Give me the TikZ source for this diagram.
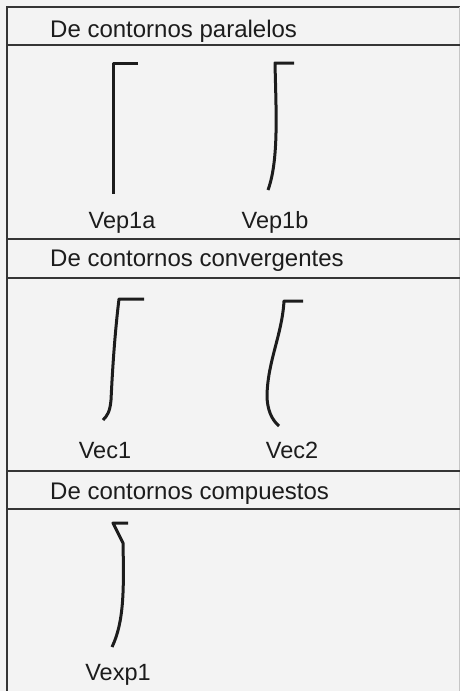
\documentclass[tikz,border=0pt]{standalone}
\usepackage{fontspec}
\setmainfont{Liberation Sans}
\usepackage{tikz}
\usetikzlibrary{positioning}
\usepackage{xcolor}
\definecolor{paper}{HTML}{F3F3F3}
\definecolor{rule}{HTML}{353535}
\definecolor{ink}{HTML}{1C1C1C}

\begin{document}
\begin{tikzpicture}[
    x=1pt, y=-1pt,
    frameLine/.style={draw=rule, line width=2pt},
    edgeStroke/.style={draw=ink, line width=3pt, line join=round},
    titleNode/.style={anchor=base west, inner sep=0pt, text=ink, font=\fontsize{24}{28}\selectfont},
    labelNode/.style={anchor=base, inner sep=0pt, text=ink, font=\fontsize{23.5}{28}\selectfont}
]
    \fill[paper] (0,0) rectangle (460,691);
    \useasboundingbox (0,0) rectangle (460,691);

    % Marco
    \draw[frameLine] (7,691) -- (7,7) -- (460,7);
    \draw[draw=gray!45, line width=1pt] (459,7) -- (459,691);
    \foreach \yy in {45,239,278,471,509}
        \draw[frameLine] (7,\yy) -- (460,\yy);

    % Panel 1
    \node[titleNode] (tit1) at (50,37) {De contornos paralelos};
    \node[labelNode] (vep1a) at (122,228) {Vep1a};
    \node[labelNode] (vep1b) at (275,228) {Vep1b};
    \draw[edgeStroke] (138,63) -- (113,63) -- (113,194);
    \draw[edgeStroke] (294,63) -- (275,63) .. controls (276,110) and (279,160) .. (268,190);

    % Panel 2
    \node[titleNode] (tit2) at (50,266) {De contornos convergentes};
    \node[labelNode] (vec1) at (105,458) {Vec1};
    \node[labelNode] (vec2) at (292,458) {Vec2};
    \draw[edgeStroke] (144,299) -- (119,299) .. controls (114,340) and (112,380) .. (111,400)
        .. controls (110,412) and (107,416) .. (103,420);
    \draw[edgeStroke] (303,301) -- (284,301) .. controls (282,335) and (268,360) .. (267,395)
        .. controls (267,410) and (272,420) .. (279,426);

    % Panel 3
    \node[titleNode] (tit3) at (50,499) {De contornos compuestos};
    \node[labelNode] (vexp1) at (118,680) {Vexp1};
    \draw[edgeStroke] (128,523) -- (113,523) -- (123,543) .. controls (124,590) and (124,622) .. (112,647);
\end{tikzpicture}
\end{document}
